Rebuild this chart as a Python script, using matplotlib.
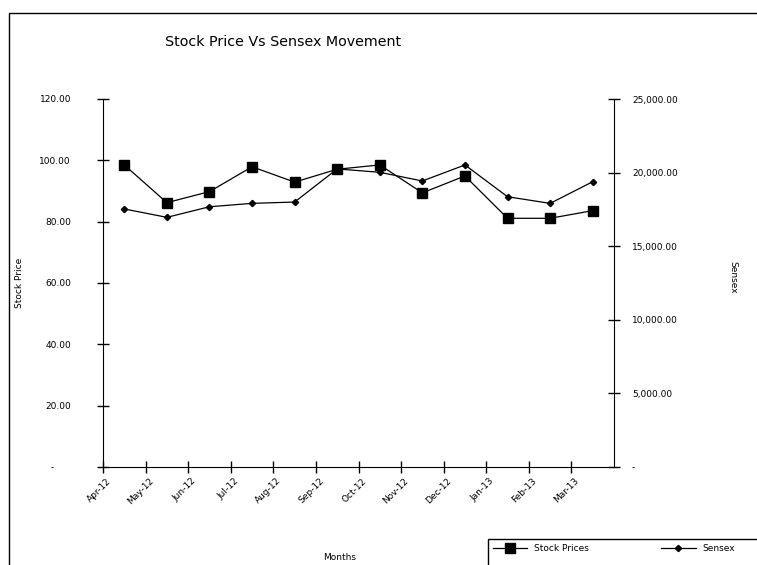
import numpy as np
import matplotlib
matplotlib.use("Agg")
import matplotlib.pyplot as plt
from matplotlib.patches import Rectangle
from matplotlib.ticker import FuncFormatter
from matplotlib.transforms import ScaledTranslation

months = ["Apr-12", "May-12", "Jun-12", "Jul-12", "Aug-12", "Sep-12",
          "Oct-12", "Nov-12", "Dec-12", "Jan-13", "Feb-13", "Mar-13"]
stock_prices = [98.5, 86.2, 89.8, 97.9, 92.9, 97.1, 98.5, 89.4, 94.9, 81.1, 81.1, 83.6]
sensex = [17530, 16960, 17680, 17910, 18000, 20250, 20020, 19430, 20520, 18360, 17910, 19380]

W, H = 757, 565
fig = plt.figure(figsize=(W / 100, H / 100), dpi=100)
fs = 6.5

# outer chart frame (runs off the right and bottom edge)
fig.patches.append(Rectangle((9 / W, -0.1), 1.2, 1 - 13 / H + 0.1, transform=fig.transFigure,
                             fill=False, edgecolor="black", linewidth=1.0))
# legend frame, also cut by the figure edge
fig.patches.append(Rectangle((488 / W, -0.1), 1.0, 1 - 539 / H + 0.1, transform=fig.transFigure,
                             fill=False, edgecolor="black", linewidth=1.0))

ax = fig.add_axes([103 / W, 1 - 467 / H, (614 - 103) / W, (467 - 99) / H])
ax2 = ax.twinx()

x = np.arange(len(months))
l1, = ax.plot(x, stock_prices, color="black", lw=0.9, marker="s", ms=6.5, label="Stock Prices")
l2, = ax2.plot(x, sensex, color="black", lw=0.9, marker="D", ms=3.2, label="Sensex")

ax.set_xlim(-0.5, len(months) - 0.5)
ax.set_ylim(0, 120)
ax2.set_ylim(0, 25000)

for a in (ax, ax2):
    a.spines["top"].set_visible(False)
    a.patch.set_visible(False)
ax.spines["right"].set_visible(False)
ax2.spines["left"].set_visible(False)
ax2.spines["bottom"].set_visible(False)

ax.set_xticks(x)
ax.set_xticklabels(months, rotation=45, ha="right", va="center",
                   rotation_mode="anchor", fontsize=fs)
ax.set_xticks(np.arange(-0.5, len(months) - 0.5), minor=True)
ax.tick_params(axis="x", which="major", length=0, pad=9)
ax.tick_params(axis="x", which="minor", direction="inout", length=8, width=1)
for lab in ax.get_xticklabels():
    lab.set_transform(lab.get_transform() + ScaledTranslation(-0.15, 0, fig.dpi_scale_trans))

ax.set_yticks(np.arange(0, 121, 20))
ax.yaxis.set_major_formatter(FuncFormatter(lambda v, p: "-      " if v == 0 else f"{v:.2f}"))
ax.tick_params(axis="y", direction="inout", length=8, width=1, pad=19, labelsize=fs)

ax2.set_yticks(np.arange(0, 25001, 5000))
ax2.yaxis.set_major_formatter(FuncFormatter(lambda v, p: "-" if v == 0 else f"{v:,.2f}"))
ax2.tick_params(axis="y", direction="inout", length=8, width=1, pad=9, labelsize=fs)

fig.text(283 / W, 1 - 42 / H, "Stock Price Vs Sensex Movement", ha="center", va="center", fontsize=10.3)
fig.text(20 / W, 1 - 283 / H, "Stock Price", rotation=90, ha="center", va="center", fontsize=fs)
fig.text(733 / W, 1 - 277 / H, "Sensex", rotation=270, ha="center", va="center", fontsize=fs)
fig.text(340 / W, 1 - 557 / H, "Months", ha="center", va="center", fontsize=fs)

fig.legend([l1, l2], ["Stock Prices", "Sensex"], ncol=2, loc="upper left",
           bbox_to_anchor=(490 / W, 1 - 541 / H), borderaxespad=0, frameon=False,
           fontsize=fs, handlelength=3.8, columnspacing=8.0, borderpad=0.3,
           handletextpad=0.8)

fig.savefig("out.png", dpi=100)
